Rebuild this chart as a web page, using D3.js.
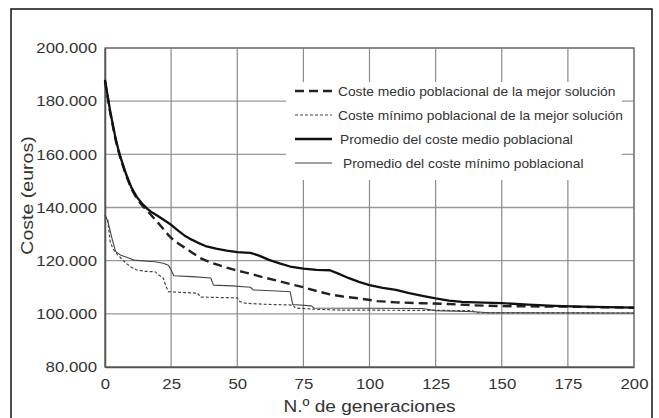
<!DOCTYPE html>
<html>
<head>
<meta charset="utf-8">
<script src="https://cdn.jsdelivr.net/npm/d3@7"></script>
<style>
  html, body { margin: 0; padding: 0; background: #fff; }
  svg { display: block; }
  text { font-family: "Liberation Sans", Arial, Helvetica, sans-serif; fill: #333; }
</style>
</head>
<body>
<svg id="chart" width="659" height="418"></svg>
<script>
// ---------------- data ----------------
const xTicks = [0, 25, 50, 75, 100, 125, 150, 175, 200];
const yTicks = [80000, 100000, 120000, 140000, 160000, 180000, 200000];
const xTitle = "N.º de generaciones";
const yTitle = "Coste (euros)";
const seriesNames = [
  "Coste medio poblacional de la mejor solución",
  "Coste mínimo poblacional de la mejor solución",
  "Promedio del coste medio poblacional",
  "Promedio del coste mínimo poblacional"
];

// Coste medio poblacional de la mejor solución (dashed)
const medioMejorGen = [0, 1, 2, 3, 4, 5, 6, 7, 8, 10, 12, 14, 16, 18, 20, 22, 24, 26, 28, 30, 33, 36, 40, 44, 48, 52, 56, 60, 65, 70, 75, 80, 85, 90, 96, 103, 110, 120, 130, 140, 150, 175, 200];
const medioMejorVal = [187500, 181500, 175500, 170500, 165500, 161500, 158000, 155000, 152000, 147000, 143500, 140800, 138800, 136500, 134300, 132000, 129600, 127600, 126300, 125000, 123000, 121000, 119300, 118000, 116800, 115800, 114800, 113700, 112500, 111200, 110000, 108600, 107300, 106500, 105800, 104800, 104300, 104000, 103700, 103200, 102900, 102700, 102300];

// Coste mínimo poblacional de la mejor solución (dotted)
const minMejorGen = [0, 1, 2, 3, 4, 6, 8, 10, 12, 15, 19, 20.5, 22, 23, 24, 30, 35, 36, 50, 51, 53, 60, 71, 72, 80, 90, 125, 139, 140, 200];
const minMejorVal = [137000, 135500, 127000, 124500, 123000, 121000, 119000, 117500, 116500, 116000, 115800, 114500, 113500, 110500, 108300, 108000, 107800, 106300, 106000, 104600, 104000, 103600, 103300, 102200, 101700, 101400, 101300, 101200, 100400, 100300];

// Promedio del coste medio poblacional (thick solid)
const promedioMedioGen = [0, 1, 2, 3, 4, 5, 6, 7, 8, 10, 12, 14, 16, 18, 20, 22, 25, 28, 30, 32, 35, 38, 42, 46, 50, 53, 55, 58, 62, 66, 70, 75, 80, 85, 88, 92, 96, 100, 105, 110, 115, 120, 125, 130, 135, 140, 150, 160, 170, 180, 190, 200];
const promedioMedioVal = [188000, 182000, 176000, 171000, 166000, 162000, 158500, 155500, 152500, 147500, 144000, 141500, 139500, 138000, 136800, 135500, 133500, 131000, 129500, 128300, 126800, 125500, 124500, 123800, 123200, 123000, 122900, 122000, 120300, 119000, 117800, 117000, 116500, 116400, 115200, 113500, 112000, 110800, 109800, 109000, 107800, 106800, 105800, 105000, 104500, 104300, 104000, 103500, 103000, 102700, 102500, 102300];

// Promedio del coste mínimo poblacional (thin solid)
const promedioMinGen = [0, 1, 2, 3, 4, 6, 9, 11, 16, 19, 22, 24, 25, 26, 33, 40, 41, 48, 55, 56, 65, 70, 71, 78, 79, 120, 125, 140, 145, 200];
const promedioMinVal = [137000, 135000, 131000, 127000, 123500, 122000, 121000, 120200, 119800, 119600, 119000, 118300, 116500, 114300, 114000, 113500, 110800, 110500, 110000, 109000, 108600, 108300, 103500, 103000, 102200, 102000, 101200, 100800, 100400, 100300];

// ---------------- drawing ----------------
const svg = d3.select("#chart");
const M = { left: 105, right: 634, top: 48, bottom: 367 };

const x = d3.scaleLinear().domain([0, 200]).range([M.left, M.right]);
const y = d3.scaleLinear().domain([80000, 200000]).range([M.bottom, M.top]);

const es = d3.formatLocale({ decimal: ",", thousands: ".", grouping: [3], currency: ["", " €"] });
const fmt = es.format(",");

// outer frame
svg.append("rect")
  .attr("x", 11).attr("y", 9).attr("width", 641).attr("height", 420)
  .attr("fill", "none").attr("stroke", "#111").attr("stroke-width", 1.5);

// grid
const grid = svg.append("g");
grid.selectAll("line.h").data(yTicks).join("line")
  .attr("x1", M.left).attr("x2", M.right)
  .attr("y1", d => y(d)).attr("y2", d => y(d))
  .attr("stroke", "#999").attr("stroke-width", 1.3);
grid.selectAll("line.v").data(xTicks).join("line")
  .attr("x1", d => x(d)).attr("x2", d => x(d))
  .attr("y1", M.top).attr("y2", M.bottom)
  .attr("stroke", "#8a8a8a").attr("stroke-width", 1.2);

// legend background (occludes the grid)
const legX = 286, legY = 82, legW = 336, legH = 98;
svg.append("rect").attr("x", legX).attr("y", legY).attr("width", legW).attr("height", legH).attr("fill", "#fff");

// plot frame
svg.append("rect").attr("x", M.left).attr("y", M.top)
  .attr("width", M.right - M.left).attr("height", M.bottom - M.top)
  .attr("fill", "none").attr("stroke", "#777").attr("stroke-width", 1.3);

// axes (labels only; no tick marks)
const yAxis = d3.axisLeft(y).tickValues(yTicks).tickFormat(fmt).tickSize(0).tickPadding(8);
const gy = svg.append("g").attr("transform", `translate(${M.left},0)`).call(yAxis);
gy.select(".domain").attr("stroke", "#555").attr("stroke-width", 1.5);
gy.selectAll("text").attr("font-size", 15).attr("fill", "#333").attr("class", "stretch").attr("data-f", 1.12)
  .attr("font-family", "Liberation Sans, Arial, sans-serif");

const xAxis = d3.axisBottom(x).tickValues(xTicks).tickFormat(d3.format("d")).tickSize(0).tickPadding(8);
const gx = svg.append("g").attr("transform", `translate(0,${M.bottom})`).call(xAxis);
gx.select(".domain").attr("stroke", "#555").attr("stroke-width", 1.5);
gx.selectAll("text").attr("font-size", 15).attr("fill", "#333").attr("class", "stretch").attr("data-f", 1.12)
  .attr("font-family", "Liberation Sans, Arial, sans-serif").attr("dy", "0.95em");

// axis titles
svg.append("text").text(xTitle)
  .attr("x", (M.left + M.right) / 2).attr("y", 412)
  .attr("text-anchor", "middle").attr("font-size", 17).attr("fill", "#333")
  .attr("class", "stretch").attr("data-f", 1.12);
svg.append("text").text(yTitle)
  .attr("transform", `translate(33,${(M.top + M.bottom) / 2 - 12}) rotate(-90)`)
  .attr("text-anchor", "middle").attr("font-size", 17).attr("fill", "#333")
  .attr("class", "stretch").attr("data-f", 1.15);

// lines
const styles = [
  { stroke: "#222", width: 2.4, dash: "9,5" },
  { stroke: "#444", width: 1.2, dash: "3,2" },
  { stroke: "#111", width: 2.3, dash: null },
  { stroke: "#444", width: 1.1, dash: null }
];
const seriesData = [
  d3.zip(medioMejorGen, medioMejorVal),
  d3.zip(minMejorGen, minMejorVal),
  d3.zip(promedioMedioGen, promedioMedioVal),
  d3.zip(promedioMinGen, promedioMinVal)
];
const line = d3.line().x(d => x(d[0])).y(d => y(d[1]));
const drawOrder = [3, 1, 0, 2];
drawOrder.forEach(i => {
  svg.append("path").datum(seriesData[i])
    .attr("d", line)
    .attr("fill", "none")
    .attr("stroke", styles[i].stroke)
    .attr("stroke-width", styles[i].width)
    .attr("stroke-dasharray", styles[i].dash)
    .attr("stroke-linejoin", "round");
});

// legend
const legRows = [91, 115, 139, 163];
const legTextX = [338, 338, 340, 343];
const leg = svg.append("g");
seriesNames.forEach((name, i) => {
  leg.append("line")
    .attr("x1", 295).attr("x2", 332)
    .attr("y1", legRows[i]).attr("y2", legRows[i])
    .attr("stroke", styles[i].stroke)
    .attr("stroke-width", styles[i].width)
    .attr("stroke-dasharray", styles[i].dash);
  leg.append("text").text(name)
    .attr("x", legTextX[i]).attr("y", legRows[i]).attr("dy", "0.36em")
    .attr("font-size", 13).attr("fill", "#333")
    .attr("class", "stretch").attr("data-f", 1.06);
});

// horizontal stretch of text to match reference glyph proportions
svg.selectAll("text.stretch").each(function () {
  const f = +this.getAttribute("data-f");
  const len = this.getComputedTextLength();
  this.setAttribute("textLength", (len * f).toFixed(1));
  this.setAttribute("lengthAdjust", "spacingAndGlyphs");
});
</script>
</body>
</html>
